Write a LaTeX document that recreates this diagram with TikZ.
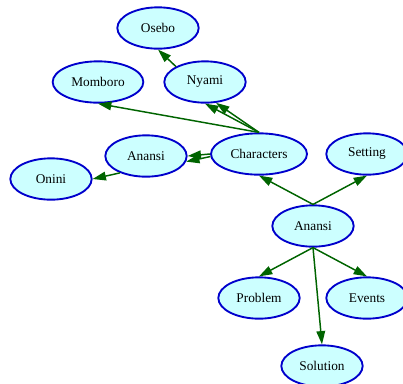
\documentclass[tikz,border=0pt]{standalone}
\usepackage{fontspec}
\setmainfont{Liberation Serif}
\usetikzlibrary{shapes.geometric, arrows.meta}

\definecolor{nodefill}{HTML}{CCFFFF}
\definecolor{nodeline}{HTML}{0000CC}
\definecolor{edgegreen}{HTML}{006400}

\begin{document}
\begin{tikzpicture}[
  x=0.75pt, y=-0.75pt,
  story/.style={ellipse, draw=nodeline, line width=1.4pt, fill=nodefill, inner sep=0pt, minimum width=61pt, minimum height=31pt, font=\fontsize{10}{12}\selectfont},
  arr/.style={-{Triangle[length=10pt, width=6.5pt]}, line width=1.1pt, draw=edgegreen}
]
\useasboundingbox (0,0) rectangle (403,383);

\node[story] (osebo) at (158, 28) {Osebo};
\node[story] (nyami) at (205, 82) {Nyami};
\node[story, minimum width=68pt] (momboro) at (98, 82) {Momboro};
\node[story] (onini) at (51, 179) {Onini};
\node[story] (anansiL) at (146, 156) {Anansi};
\node[story, minimum width=72pt] (chars) at (259, 154) {Characters};
\node[story] (setting) at (367, 154) {Setting};
\node[story] (root) at (313, 226) {Anansi};
\node[story] (problem) at (259, 298) {Problem};
\node[story] (events) at (367, 298) {Events};
\node[story] (solution) at (322, 366) {Solution};

% from the root
\draw[arr] (root.north) -- (chars.south);
\draw[arr] (root.north) -- (setting.south);
\draw[arr] (root.south) -- (problem.north);
\draw[arr] (root.south) -- (events.north);
\draw[arr] (root.south) -- (solution.north);

% characters
\draw[arr] (chars.north) -- (momboro.south);
\draw[arr] (chars.north) -- (nyami.south);
\draw[arr] (chars.north) -- (nyami.-62);
\draw[arr] (chars.west) -- (anansiL.east);
\draw[arr] (chars.183) -- (anansiL.-8);
\draw[arr] (anansiL.213) -- (onini.east);
\draw[arr] (nyami.152) -- (osebo.south);

\end{tikzpicture}
\end{document}
